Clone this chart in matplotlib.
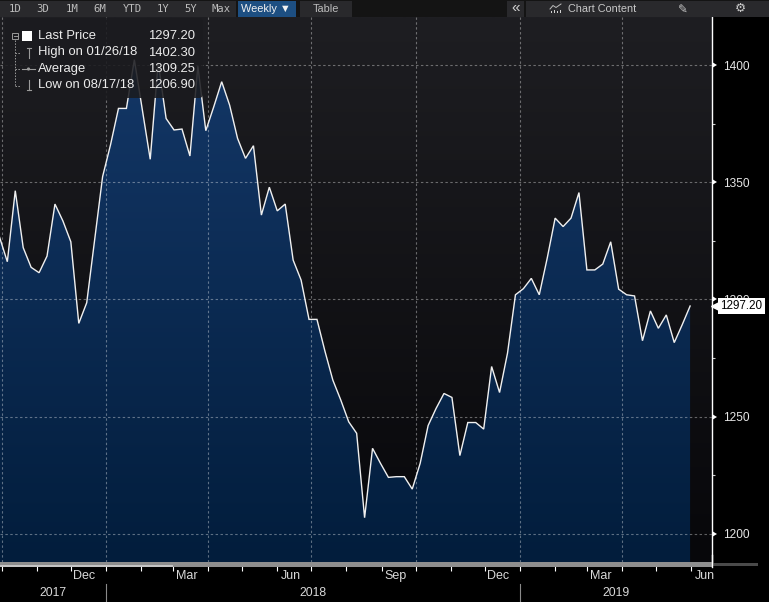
import numpy as np
import pandas as pd
import matplotlib
matplotlib.use('Agg')
import matplotlib.pyplot as plt
import matplotlib.dates as mdates
import matplotlib.transforms as mtransforms
import matplotlib.markers as mmarkers
from matplotlib.ticker import NullFormatter
from matplotlib.colors import LinearSegmentedColormap
from matplotlib.patches import PathPatch, Rectangle, FancyBboxPatch, Circle
from matplotlib.path import Path
from matplotlib.lines import Line2D

plt.rcParams['font.family'] = ['Liberation Sans', 'DejaVu Sans']

# ---------------- data ----------------
first_friday = '2017-09-29'
prices = [
    1326.8, 1316.1, 1346.4, 1322.1, 1313.7, 1311.4, 1318.5, 1340.7, 1333.5, 1324.6,
    1289.8, 1298.6, 1325.5, 1352.4, 1366.0, 1381.5, 1381.5, 1402.3, 1381.0, 1359.8,
    1401.0, 1377.2, 1372.3, 1372.7, 1361.2, 1399.5, 1372.0, 1382.2, 1392.9, 1382.9,
    1368.7, 1360.2, 1365.6, 1336.0, 1347.9, 1337.8, 1340.7, 1316.8, 1308.3, 1291.5,
    1291.5, 1278.0, 1265.6, 1257.1, 1247.8, 1242.9, 1206.9, 1236.5, 1230.1, 1224.1,
    1224.4, 1224.4, 1219.1, 1230.1, 1246.2, 1253.5, 1259.9, 1258.2, 1233.4, 1247.5,
    1247.5, 1244.7, 1271.4, 1260.3, 1277.1, 1302.0, 1304.6, 1309.0, 1302.0, 1317.6,
    1334.7, 1331.1, 1334.7, 1345.6, 1312.6, 1312.6, 1315.1, 1324.6, 1304.4, 1302.0,
    1301.5, 1282.4, 1295.1, 1287.7, 1293.4, 1281.6, 1289.2, 1297.2,
]
dates = pd.date_range(first_friday, periods=len(prices), freq='W-FRI')

y_major_ticks = [1200, 1250, 1300, 1350, 1400]
y_minor_ticks = [1225, 1275, 1325, 1375]
month_label_months = [3, 6, 9, 12]
year_labels = [2017, 2018, 2019]
legend_names = ['Last Price', 'High on 01/26/18', 'Average', 'Low on 08/17/18']
legend_values = ['1297.20', '1402.30', '1309.25', '1206.90']
last_price = 1297.20
last_price_text = '1297.20'
toolbar_periods = ['1D', '3D', '1M', '6M', 'YTD', '1Y', '5Y', 'Max']

# ---------------- layout ----------------
W, H = 769, 602
fig = plt.figure(figsize=(W / 100, H / 100), dpi=100, facecolor='black')
trans_px = mtransforms.Affine2D().scale(1 / W, -1 / H).translate(0, 1) + fig.transFigure

ax = fig.add_axes([0, 40 / H, 712 / W, 545 / H])
px_per_day = 1.1342
x_ref = mdates.date2num(pd.Timestamp('2018-01-01'))
x_left = x_ref - 106 / px_per_day
x_right = x_left + 712 / px_per_day
ybot, ytop = 1188.0, 1420.5

xd = mdates.date2num(dates)

# background gradient
grad = np.linspace(0, 1, 256).reshape(-1, 1)
bg_cmap = LinearSegmentedColormap.from_list('bg', ['#07070a', '#1e1e22'])
ax.imshow(grad, cmap=bg_cmap, aspect='auto', extent=[x_left, x_right, ybot, ytop],
          origin='lower', zorder=0, interpolation='bilinear')

# area fill with gradient
verts = [(xd[0], ybot)] + list(zip(xd, prices)) + [(xd[-1], ybot), (xd[0], ybot)]
clip = PathPatch(Path(verts), transform=ax.transData, facecolor='none', edgecolor='none')
ax.add_patch(clip)
fill_cmap = LinearSegmentedColormap.from_list('fill', ['#021d3c', '#15396a'])
im = ax.imshow(grad, cmap=fill_cmap, aspect='auto', extent=[x_left, x_right, ybot, ytop],
               origin='lower', zorder=1, interpolation='bilinear')
im.set_clip_path(clip)

# grid
for yv in y_major_ticks:
    ax.axhline(yv, color='white', alpha=0.36, lw=0.8, ls=(0, (2.2, 2.2)), zorder=2)
qlocs = mdates.MonthLocator(bymonth=[1, 4, 7, 10]).tick_values(mdates.num2date(x_left), mdates.num2date(x_right))
for q in qlocs:
    if x_left <= q <= x_right:
        ax.axvline(q, color='white', alpha=0.36, lw=0.8, ls=(0, (2.2, 2.2)), zorder=2)

ax.plot(xd, prices, color='#f0f0f0', lw=1.0, zorder=3, solid_joinstyle='miter')

ax.set_xlim(x_left, x_right)
ax.set_ylim(ybot, ytop)

# spines
for s in ['left', 'top', 'bottom']:
    ax.spines[s].set_visible(False)
ax.spines['right'].set_color('white')
ax.spines['right'].set_linewidth(1.0)

# y axis
ax.yaxis.tick_right()
ax.set_yticks(y_major_ticks)
ax.set_yticks(y_minor_ticks, minor=True)
ax.tick_params(axis='y', which='major', length=4.5, width=0, pad=3.5, labelsize=8.6,
               labelcolor='#e6e6e6', left=False, right=True)
ax.tick_params(axis='y', which='minor', length=2.5, width=0.8, color='#cccccc',
               left=False, right=True)
for t in ax.yaxis.get_major_ticks():
    t.tick2line.set_marker(mmarkers.CARETRIGHTBASE)
    t.tick2line.set_markersize(4.5)
    t.tick2line.set_markerfacecolor('white')
    t.tick2line.set_markeredgecolor('white')

# x axis
ax.xaxis.set_major_locator(mdates.MonthLocator())
ax.xaxis.set_major_formatter(NullFormatter())
ax.xaxis.set_minor_locator(mdates.MonthLocator(bymonth=month_label_months, bymonthday=13))
ax.xaxis.set_minor_formatter(mdates.DateFormatter('%b'))
ax.tick_params(axis='x', which='major', length=6.6, width=0.8, color='white',
               direction='out', labelbottom=False)
ax.tick_params(axis='x', which='minor', length=0, pad=5.5, labelsize=9, labelcolor='#d8d8d8')

# scroll bar under the plot
fig.add_artist(Rectangle((0, 562), 712, 5, transform=trans_px, facecolor='#8e8e8e', edgecolor='none'))
fig.add_artist(Rectangle((0, 564.5), 173, 2.5, transform=trans_px, facecolor='#c4c4c4', edgecolor='none'))
fig.add_artist(Rectangle((712, 563), 46, 3, transform=trans_px, facecolor='#4a4a4a', edgecolor='none'))
fig.add_artist(Line2D([711.5, 711.5], [555, 567], transform=trans_px, color='white', lw=1.0))

# year labels & separators
blend = mtransforms.blended_transform_factory(ax.transData, trans_px)
for yr in year_labels:
    s = max(mdates.date2num(pd.Timestamp(f'{yr}-01-01')), x_left)
    e = min(mdates.date2num(pd.Timestamp(f'{yr + 1}-01-01')), x_right)
    ax.text((s + e) / 2, 593, str(yr), transform=blend, ha='center', va='center',
            fontsize=8.8, color='#d8d8d8', clip_on=False)
    b = mdates.date2num(pd.Timestamp(f'{yr}-01-01'))
    if x_left < b < x_right:
        ax.plot([b, b], [584, 602], transform=blend, color='#8a8a8a', lw=0.8, clip_on=False)

# last price label (covers the 1300 tick label, as in the reference)
blend_y = mtransforms.blended_transform_factory(trans_px, ax.transData)
ax.text(741.5, last_price, last_price_text, transform=blend_y, ha='center', va='center',
        fontsize=8.4, color='black', clip_on=False, zorder=6,
        bbox=dict(boxstyle='square,pad=0.2', facecolor='white', edgecolor='none'))
ax.plot([715.5], [last_price], transform=blend_y, marker='<', markersize=6.5,
        color='white', clip_on=False, zorder=6)

# ---------------- toolbar ----------------
fig.add_artist(Rectangle((0, 0), W, 17, transform=trans_px, facecolor='#141414', edgecolor='none'))
fig.add_artist(Rectangle((0, 0.5), 236, 16, transform=trans_px, facecolor='#29292c', edgecolor='none'))
period_x = [15.5, 43, 71.7, 100, 132, 163, 191, 221]
for lbl, px in zip(toolbar_periods, period_x):
    fig.text(px, 8.8, lbl, transform=trans_px, ha='center', va='center',
             fontsize=7.6, color='#bcbcbc', family=['DejaVu Sans Mono'])
fig.add_artist(Rectangle((238, 0.5), 58, 16, transform=trans_px, facecolor='#1d4f82', edgecolor='none'))
fig.text(266, 8.8, 'Weekly \u25BC', transform=trans_px, ha='center', va='center',
         fontsize=7.9, color='#f2f2f2', family=['Liberation Sans', 'DejaVu Sans'])
fig.add_artist(Rectangle((300, 0.5), 52, 16, transform=trans_px, facecolor='#29292c', edgecolor='none'))
fig.text(326, 8.8, 'Table', transform=trans_px, ha='center', va='center',
         fontsize=7.9, color='#bcbcbc')
fig.add_artist(Rectangle((507, 0.5), 17, 16, transform=trans_px, facecolor='#29292c', edgecolor='none'))
fig.text(516, 8.3, '\u00AB', transform=trans_px, ha='center', va='center',
         fontsize=11, color='#d0d0d0')
fig.add_artist(Rectangle((526, 0.5), 243, 16, transform=trans_px, facecolor='#29292c', edgecolor='none'))
fig.add_artist(Line2D([550, 553, 556, 561], [9, 5.5, 7.5, 4], transform=trans_px, color='#bdbdbd', lw=0.7))
for bx, bh in zip([550.5, 553.5, 556.5, 559.5], [2, 3, 2.5, 3.5]):
    fig.add_artist(Rectangle((bx, 13 - bh), 1.6, bh, transform=trans_px, facecolor='#d0d0d0', edgecolor='none'))
fig.text(568, 8.8, 'Chart Content', transform=trans_px, ha='left', va='center',
         fontsize=7.8, color='#c8c8c8')
fig.text(683, 8.8, '\u270E', transform=trans_px, ha='center', va='center',
         fontsize=8.5, color='#c8c8c8', family=['DejaVu Sans'])
fig.text(740, 8.8, '\u2699', transform=trans_px, ha='center', va='center',
         fontsize=9, color='#c8c8c8', family=['DejaVu Sans'])

# ---------------- legend box ----------------
fig.add_artist(FancyBboxPatch((5, 18), 198, 80, boxstyle='round,pad=0,rounding_size=4',
                              transform=trans_px, facecolor='#1b1b1f', edgecolor='none', alpha=0.88))
row_y = [36, 52.5, 69, 85.5]
grey = '#9a9a9a'
# tree
fig.add_artist(Rectangle((12, 33), 6, 6, transform=trans_px, facecolor='none', edgecolor=grey, lw=0.7))
fig.add_artist(Line2D([13.5, 16.5], [36, 36], transform=trans_px, color=grey, lw=0.7))
fig.add_artist(Line2D([15, 15], [40, 85.5], transform=trans_px, color=grey, lw=0.7, ls=(0, (1.5, 1.5))))
for ry in row_y[1:]:
    fig.add_artist(Line2D([15, 20], [ry, ry], transform=trans_px, color=grey, lw=0.7, ls=(0, (1.5, 1.5))))
fig.add_artist(Rectangle((22, 31), 10, 10, transform=trans_px, facecolor='white', edgecolor='none'))
# high icon
fig.add_artist(Line2D([27, 31], [47.5, 47.5], transform=trans_px, color=grey, lw=0.8))
fig.add_artist(Line2D([29, 29], [47.5, 57.5], transform=trans_px, color=grey, lw=0.8))
# average icon
fig.add_artist(Line2D([22, 35], [69, 69], transform=trans_px, color=grey, lw=0.8))
fig.add_artist(Circle((28.5, 69), 1.6, transform=trans_px, facecolor=grey, edgecolor='none'))
# low icon
fig.add_artist(Line2D([29, 29], [80, 90], transform=trans_px, color=grey, lw=0.8))
fig.add_artist(Line2D([27, 31], [90, 90], transform=trans_px, color=grey, lw=0.8))
for ry, nm, val in zip(row_y, legend_names, legend_values):
    fig.text(38, ry, nm, transform=trans_px, ha='left', va='center', fontsize=9.4, color='#ececec')
    fig.text(195, ry, val, transform=trans_px, ha='right', va='center', fontsize=9.4, color='#ececec')

fig.savefig('out.png', dpi=100, facecolor='black')
